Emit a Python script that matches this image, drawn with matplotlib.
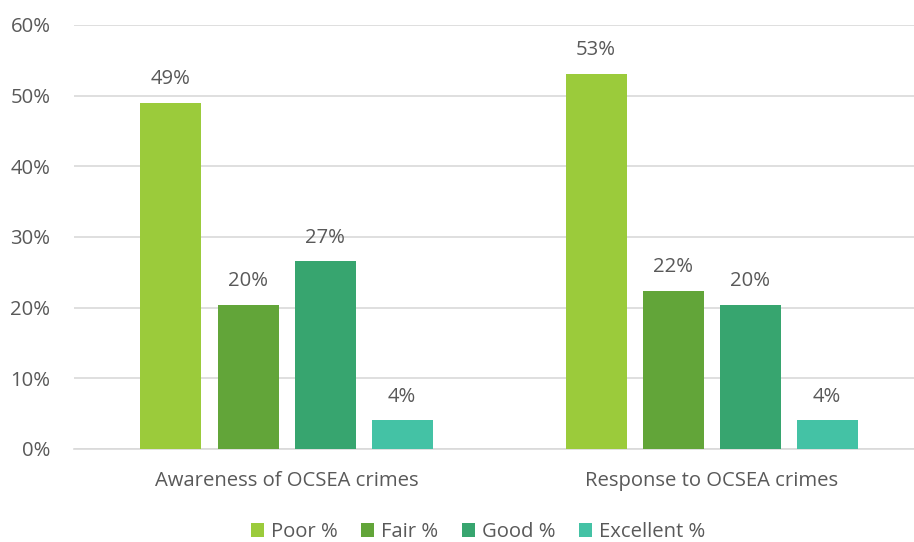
import matplotlib
matplotlib.use("Agg")
import matplotlib.pyplot as plt
from matplotlib.ticker import PercentFormatter

# --- DATA ---
categories = ["Awareness of OCSEA crimes", "Response to OCSEA crimes"]
series = ["Poor %", "Fair %", "Good %", "Excellent %"]
poor = [49.0, 53.1]
fair = [20.4, 22.4]
good = [26.6, 20.4]
excellent = [4.1, 4.1]
y_ticks = [0, 10, 20, 30, 40, 50, 60]

COLORS = ["#9BCB3B", "#62A539", "#37A56F", "#44C2A5"]
TEXT = "#595959"
GRID = "#D9D9D9"

plt.rcParams["font.family"] = ["Open Sans", "DejaVu Sans"]
plt.rcParams["font.stretch"] = "normal"

fig = plt.figure(figsize=(9.14, 5.42), dpi=100, facecolor="white")
# axes box in pixel terms: left 74, right edge of image, top 25, bottom 449
W, H = 914, 542
ax = fig.add_axes([74 / W, (H - 449) / H, (W - 74) / W, (449 - 25) / H])

bar_w = 61 / 425
step = 77 / 425
offsets = [(i - 1.5) * step for i in range(4)]
values = [poor, fair, good, excellent]

FS = 14.6
for vals, off, col, name in zip(values, offsets, COLORS, series):
    xs = [i + off for i in range(len(categories))]
    bars = ax.bar(xs, vals, width=bar_w, color=col, label=name, zorder=3)
    for b, v in zip(bars, vals):
        ax.text(b.get_x() + b.get_width() / 2, v + 1.9, f"{round(v):d}%",
                ha="center", va="bottom", fontsize=FS, color=TEXT)

ax.set_xlim(-0.5, -0.5 + (W - 74) / 425)
ax.set_ylim(0, 60)
ax.set_yticks(y_ticks)
ax.yaxis.set_major_formatter(PercentFormatter(decimals=0))
ax.set_xticks(range(len(categories)))
ax.set_xticklabels(categories)
ax.tick_params(axis="both", length=0, labelsize=FS, colors=TEXT)
ax.tick_params(axis="x", pad=16)
ax.tick_params(axis="y", pad=17)
ax.yaxis.grid(True, color=GRID, linewidth=1.2, zorder=0)
for s in ["top", "right", "left"]:
    ax.spines[s].set_visible(False)
ax.spines["bottom"].set_color(GRID)
ax.spines["bottom"].set_linewidth(1.2)

fig.legend(loc="center", bbox_to_anchor=(478 / W, 1 - 532 / H), ncol=4,
           frameon=False, fontsize=FS, labelcolor=TEXT,
           handlelength=0.65, handleheight=0.65, handletextpad=0.35,
           columnspacing=1.15)

fig.savefig("out.png", dpi=100, facecolor="white")
